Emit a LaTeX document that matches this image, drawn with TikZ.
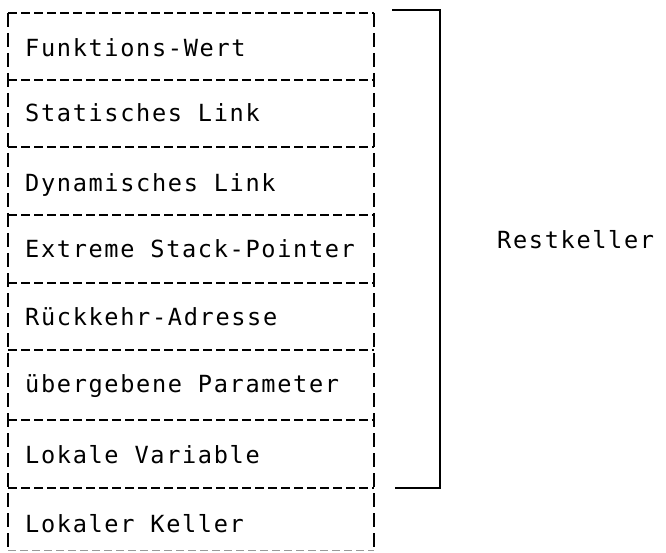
\documentclass[tikz,border=0pt]{standalone}
\usepackage{fontspec}
\newfontfamily\stackfont[LetterSpace=7]{DejaVu Sans Mono}
\begin{document}
\begin{tikzpicture}[x=1pt,y=-1pt,
  dline/.style={line width=2.2pt, dash pattern=on 9pt off 4pt},
  vline/.style={line width=2.2pt, dash pattern=on 14pt off 6pt},
  lbl/.style={anchor=base west, inner sep=0pt, font=\stackfont\fontsize{23.6}{28}\selectfont},
  brack/.style={line width=1.5pt}]
\useasboundingbox (0,0) rectangle (666,553);
% separators
\foreach \y in {13,80,147,215,283,350,420,488}
  \draw[dline] (8,\y) -- (374,\y);
\draw[line width=1pt, dash pattern=on 8pt off 4pt, black!40] (8,550) -- (374,550);
% vertical edges
\draw[vline] (8,13) -- (8,553);
\draw[vline] (374,13) -- (374,553);
% labels
\node[lbl] (fw) at (25,57) {Funktions-Wert};
\node[lbl] (sl) at (25,122) {Statisches Link};
\node[lbl] (dl) at (25,192) {Dynamisches Link};
\node[lbl] (es) at (25,258) {Extreme Stack-Pointer};
\node[lbl] (ra) at (25,325) {Rückkehr-Adresse};
\node[lbl] (up) at (25,392) {übergebene Parameter};
\node[lbl] (lv) at (25,463) {Lokale Variable};
\node[lbl] (lk) at (25,532) {Lokaler Keller};
\node[lbl] (rk) at (497,248) {Restkeller};
% bracket
\coordinate (bt) at (392,10);
\coordinate (bb) at (395,488);
\draw[brack] (bt) -- (440,10) -- (440,488) -- (bb);
\end{tikzpicture}
\end{document}
